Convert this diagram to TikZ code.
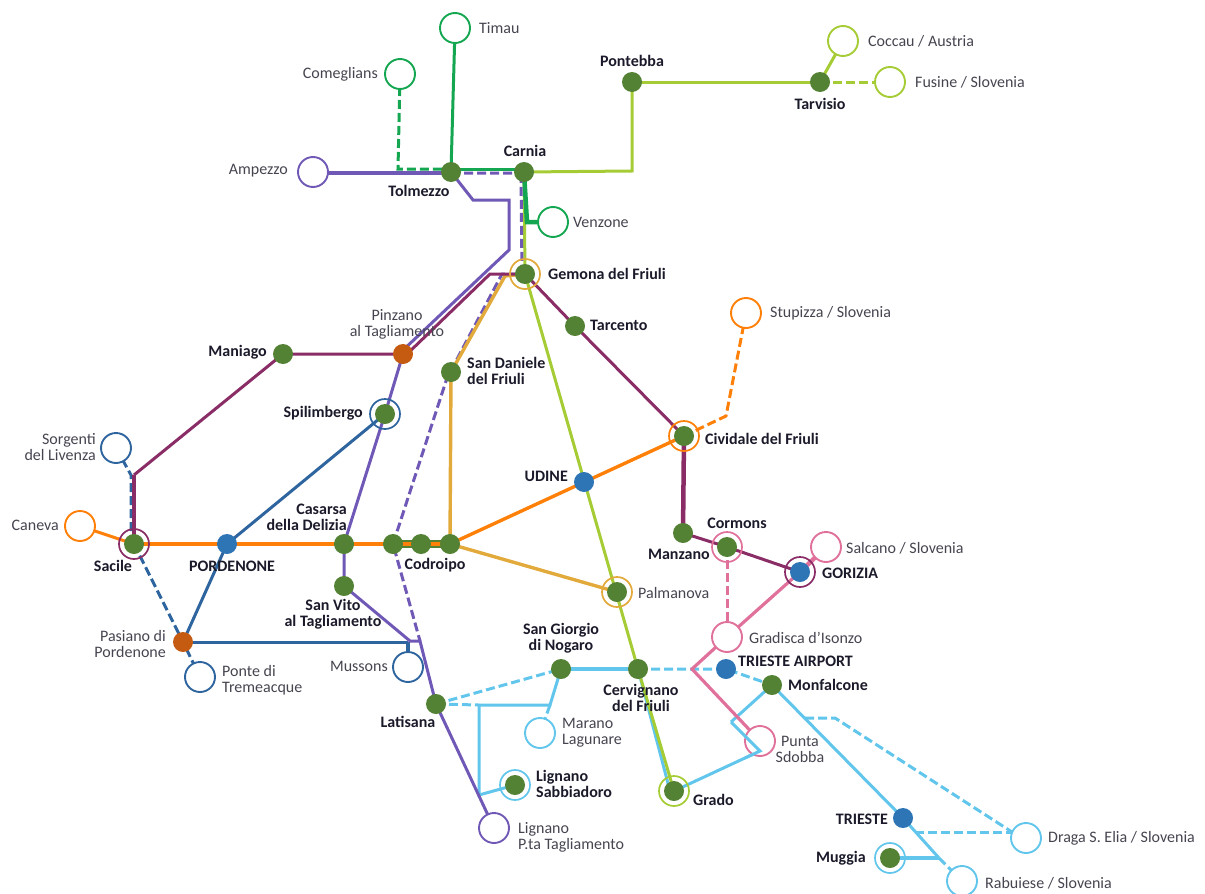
\documentclass[tikz,border=0pt]{standalone}
\usepackage{fontspec}
\setmainfont{Carlito}
\usetikzlibrary{backgrounds}
\definecolor{cpurple}{HTML}{7059B6}
\definecolor{cplum}{HTML}{8A2C66}
\definecolor{cgold}{HTML}{E2A93B}
\definecolor{corange}{HTML}{FF8008}
\definecolor{clime}{HTML}{A6CC35}
\definecolor{cgreen}{HTML}{14A650}
\definecolor{cnavy}{HTML}{2F659F}
\definecolor{csky}{HTML}{62C6EC}
\definecolor{cpink}{HTML}{E0719B}
\definecolor{cst}{HTML}{548235}
\definecolor{cbl}{HTML}{2E75B6}
\definecolor{cbr}{HTML}{C55A11}
\definecolor{ctxt}{HTML}{454550}
\definecolor{cbold}{HTML}{1A1A2A}
\tikzset{
 st/.style={circle,fill=cst,minimum size=20pt,inner sep=0pt},
 stb/.style={st,fill=cbl},
 stbr/.style={st,fill=cbr},
 open/.style={circle,draw=#1,fill=white,line width=1.9pt,minimum size=30pt,inner sep=0pt},
 ring/.style={circle,draw=#1,line width=1.7pt,minimum size=30pt,inner sep=0pt},
 lb/.style={font=\fontsize{16}{16}\selectfont,text=ctxt,inner sep=0pt,align=left},
 bl/.style={font=\fontsize{16}{16}\selectfont\bfseries,text=cbold,inner sep=0pt,align=center},
 thin line/.style={line width=3pt,line join=miter},
 thick line/.style={line width=4.5pt},
 dash line/.style={line width=3pt,dash pattern=on 9pt off 4pt},
}
\begin{document}
\begin{tikzpicture}[x=1pt,y=-1pt]
\useasboundingbox (0,0) rectangle (1205,894);
% stations
\node[open=cgreen] (timau) at (455,28) {};
\node[open=cgreen] (comeglians) at (400,74) {};
\node[st] (pontebba) at (632,82) {};
\node[st] (tarvisio) at (820,82) {};
\node[open=clime] (coccau) at (843,41) {};
\node[open=clime] (fusine) at (890,82) {};
\node[open=cpurple] (ampezzo) at (313,172) {};
\node[st] (tolmezzo) at (451,172) {};
\node[st] (carnia) at (524,172) {};
\node[open=cgreen] (venzone) at (553,222) {};
\node[st] (gemona) at (525,274) {};
\node[ring=cgold] (gemonar) at (525,274) {};
\node[st] (tarcento) at (575,326) {};
\node[open=corange] (stupizza) at (746,313) {};
\node[stbr] (pinzano) at (403,354) {};
\node[st] (maniago) at (283,354) {};
\node[st] (sandaniele) at (451,372) {};
\node[st] (spilimbergo) at (385,414) {};
\node[ring=cnavy] (spilimbergor) at (385,414) {};
\node[st] (cividale) at (684,436) {};
\node[ring=corange] (cividaler) at (684,436) {};
\node[open=cnavy] (sorgenti) at (116,448) {};
\node[stb] (udine) at (584,482) {};
\node[open=corange] (caneva) at (80,526) {};
\node[st] (sacile) at (134,544) {};
\node[ring=cplum] (saciler) at (134,544) {};
\node[stb] (pordenone) at (227,544) {};
\node[st] (casarsa) at (344,544) {};
\node[st] (codA) at (393,544) {};
\node[st] (codB) at (421,544) {};
\node[st] (codC) at (450,544) {};
\node[st] (manzano) at (683,533) {};
\node[st] (cormons) at (727,547) {};
\node[ring=cpink] (cormonsr) at (727,547) {};
\node[open=cpink] (salcano) at (826,547) {};
\node[stb] (gorizia) at (800,572) {};
\node[ring=cplum] (goriziar) at (800,572) {};
\node[st] (palmanova) at (617,592) {};
\node[ring=cgold] (palmanovar) at (617,592) {};
\node[st] (sanvito) at (344,586) {};
\node[stbr] (pasiano) at (183,642) {};
\node[open=cpink] (gradisca) at (727,637) {};
\node[st] (sangiorgio) at (561,669) {};
\node[st] (cervignano) at (638,669) {};
\node[stb] (airport) at (726,669) {};
\node[st] (monfalcone) at (772,685) {};
\node[open=cnavy] (mussons) at (408,667) {};
\node[open=cnavy] (ponte) at (200,677) {};
\node[st] (latisana) at (436,704) {};
\node[open=csky] (marano) at (540,733) {};
\node[open=cpink] (punta) at (760,741) {};
\node[st] (lignanos) at (515,785) {};
\node[ring=csky] (lignanosr) at (515,785) {};
\node[st] (grado) at (674,791) {};
\node[ring=clime] (grador) at (674,791) {};
\node[open=cpurple] (lignanop) at (494,828) {};
\node[stb] (trieste) at (903,818) {};
\node[open=csky] (draga) at (1026,838) {};
\node[st] (muggia) at (890,858) {};
\node[ring=csky] (muggiar) at (890,858) {};
\node[open=csky] (rabuiese) at (962,881) {};
% way points
\coordinate (pA) at (473,200);
\coordinate (pB) at (509,200);
\coordinate (pC) at (509,250);
\coordinate (pD) at (410,641);
\coordinate (pE) at (420,641);
\coordinate (pF) at (401,352);
\coordinate (pG) at (502,274);
\coordinate (pH) at (447,378);
\coordinate (plA) at (490,274);
\coordinate (plC) at (405,356);
\coordinate (plB) at (134,475);
\coordinate (nA) at (131,475);
\coordinate (gA) at (505,276);
\coordinate (oA) at (726,416);
\coordinate (lA) at (632,171);
\coordinate (cA) at (398,169);
\coordinate (cB) at (527,222);
\coordinate (cC) at (408,642);
\coordinate (sA) at (692,669);
\coordinate (sB) at (731,722);
\coordinate (sC) at (760,751);
\coordinate (sL) at (745,758);
\coordinate (sD) at (939,858);
\coordinate (sE) at (805,718);
\coordinate (sF) at (835,718);
\coordinate (sG) at (915,832);
\coordinate (sK) at (1012,832);
\coordinate (sH) at (550,705);
\coordinate (sI) at (479,705);
\coordinate (sJ) at (479,795);
\begin{scope}[on background layer]
% dark green under the Codroipo segment
\draw[line width=8pt,cst] (codA.center) -- (codC.center);
% purple thick, below the green dashes
\draw[cpurple,thick line] ([yshift=-1pt]ampezzo.center) -- ([yshift=-1pt]tolmezzo.center);
% green
\draw[cgreen,thin line] (timau.center) -- (tolmezzo.center);
\draw[cgreen,dash line] (comeglians.center) -- (cA) -- ([yshift=3pt]tolmezzo.center);
\draw[cgreen,thin line] ([yshift=3pt]tolmezzo.center) -- ([yshift=3pt]carnia.center);
% lime
\draw[clime,thin line] (pontebba.center) -- (tarvisio.center);
\draw[clime,thin line] (pontebba.center) -- (lA) -- (carnia.center);
\draw[clime,thin line] (tarvisio.center) -- (coccau.center);
\draw[clime,dash line] (tarvisio.center) -- (fusine.center);
\draw[clime,thin line] (carnia.center) -- (gemona.center);
\draw[cgreen,thick line] (carnia.center) -- (cB) -- (venzone.center);
% sky
\draw[csky,thin line] (cervignano.center) -- ([xshift=-4pt]grado.center);
\draw[clime,thin line] (gemona.center) -- (cervignano.center) -- (grado.center);
\draw[csky,thick line] (sangiorgio.center) -- (cervignano.center);
\draw[csky,dash line] (cervignano.center) -- (sA) -- (airport.center) -- (monfalcone.center);
\draw[csky,thin line] (monfalcone.center) -- (sB);
\draw[csky,thin line] (sC) -- (grado.center);
\draw[csky,thin line] (monfalcone.center) -- (trieste.center) -- (sD);
\draw[csky,dash line] (sD) -- (rabuiese.center);
\draw[csky,thick line] (muggia.center) -- (sD);
\draw[csky,dash line] (sE) -- (sF) -- (sK) -- (draga.center);
\draw[csky,dash line] (sG) -- (sK);
\draw[csky,dash line] (latisana.center) -- (sangiorgio.center);
\draw[csky,dash line] (latisana.center) -- (sI);
\draw[csky,thin line] (sI) -- (sH) -- (sangiorgio.center);
\draw[csky,dash line] (sH) -- (marano.center);
\draw[csky,thin line] (sI) -- (sJ) -- (lignanos.center);
% pink
\draw[cpink,thick line] (salcano.center) -- (gorizia.center);
\draw[cpink,line width=3.2pt] (gorizia.center) -- (gradisca.center) -- (sA) -- (punta.center);
\draw[cpink,dash line] (cormons.center) -- (gradisca.center);
% navy
\draw[cnavy,dash line] (sorgenti.center) -- (nA) -- ([xshift=-3pt]sacile.center);
\draw[cnavy,dash line] (sacile.center) -- (pasiano.center) -- (ponte.center);
\draw[cnavy,thin line] (pasiano.center) -- (pordenone.center) -- (spilimbergo.center);
\draw[cnavy,thin line] (pasiano.center) -- (cC);
\draw[cnavy,thick line] (cC) -- (mussons.center);
% purple
\draw[cpurple,thin line] (tolmezzo.center) -- (pA) -- (pB) -- (pC) -- (pF) -- (pinzano.center) -- (spilimbergo.center) -- (casarsa.center) -- (sanvito.center) -- (pD) -- (pE) -- (latisana.center) -- (lignanop.center);
\draw[cpurple,dash line] ([yshift=-1pt]tolmezzo.center) -- ([yshift=-1pt]carnia.center) -- ([xshift=-3pt]carnia.center) -- ([xshift=-3pt]gemona.center) -- (pG) -- (pH) -- (codA.center) -- (pE);
% gold
\draw[cgold,line width=3.4pt] (gemona.center) -- (gA) -- (sandaniele.center) -- (codC.center) -- (palmanova.center);
% plum
\draw[cplum,thin line] (gemona.center) -- (plA) -- (plC) -- (pinzano.center) -- (maniago.center) -- (plB);
\draw[cplum,thick line] (plB) -- (sacile.center);
\draw[cplum,thin line] (gemona.center) -- (tarcento.center) -- (cividale.center);
\draw[cplum,thick line] (cividale.center) -- (manzano.center);
\draw[cplum,thin line] (manzano.center) -- (cormons.center) -- (gorizia.center);
% orange
\draw[corange,thin line] (caneva.center) -- (sacile.center);
\draw[corange,thick line] (sacile.center) -- (codA.center);
\draw[corange,thick line] (codA.center) -- (codC.center);
\draw[corange,line width=3.4pt] (codC.center) -- (cividale.center);
\draw[corange,dash line] (cividale.center) -- (oA) -- (stupizza.center);
\end{scope}
% the sky line that crosses the Punta Sdobba circle
\draw[csky,thin line] (sB) -- (sC) -- (sL);
% labels
\node[lb,anchor=west] (tTimau) at (479,28) {Timau};
\node[lb,anchor=east] (tComeglians) at (378,74) {Comeglians};
\node[bl] (tPontebba) at (632,61) {Pontebba};
\node[bl] (tTarvisio) at (820,104) {Tarvisio};
\node[lb,anchor=west] (tCoccau) at (868,41) {Coccau / Austria};
\node[lb,anchor=west] (tFusine) at (915,82) {Fusine / Slovenia};
\node[lb,anchor=east] (tAmpezzo) at (288,171) {Ampezzo};
\node[bl] (tTolmezzo) at (419,191) {Tolmezzo};
\node[bl] (tCarnia) at (525,151) {Carnia};
\node[lb,anchor=west] (tVenzone) at (573,222) {Venzone};
\node[bl,anchor=west] (tGemona) at (548,274) {Gemona del Friuli};
\node[bl,anchor=west] (tTarcento) at (590,325) {Tarcento};
\node[lb,anchor=west] (tStupizza) at (770,313) {Stupizza / Slovenia};
\node[lb,align=center] (tPinzano) at (397,324) {Pinzano\\al Tagliamento};
\node[bl,anchor=east] (tManiago) at (267,352) {Maniago};
\node[bl,anchor=west,align=left] (tSanDaniele) at (467,371) {San Daniele\\del Friuli};
\node[bl,anchor=east] (tSpilimbergo) at (363,413) {Spilimbergo};
\node[bl,anchor=west] (tCividale) at (705,439) {Cividale del Friuli};
\node[lb,anchor=east,align=right] (tSorgenti) at (96,447) {Sorgenti\\del Livenza};
\node[bl,anchor=east] (tUdine) at (568,476) {UDINE};
\node[lb,anchor=east] (tCaneva) at (59,525) {Caneva};
\node[bl] (tSacile) at (113,566) {Sacile};
\node[bl] (tPordenone) at (232,566) {PORDENONE};
\node[bl,anchor=east,align=right] (tCasarsa) at (347,517) {Casarsa\\della Delizia};
\node[bl] (tCodroipo) at (435,565) {Codroipo};
\node[bl] (tCormons) at (737,523) {Cormons};
\node[bl,anchor=east] (tManzano) at (710,554) {Manzano};
\node[lb,anchor=west] (tSalcano) at (846,548) {Salcano / Slovenia};
\node[bl,anchor=west] (tGorizia) at (822,573) {GORIZIA};
\node[lb,anchor=west] (tPalmanova) at (638,593) {Palmanova};
\node[bl] (tSanVito) at (333,614) {San Vito\\al Tagliamento};
\node[lb,anchor=east,align=right] (tPasiano) at (166,644) {Pasiano di\\Pordenone};
\node[lb,anchor=west] (tGradisca) at (749,638) {Gradisca d’Isonzo};
\node[bl] (tSanGiorgio) at (561,638) {San Giorgio\\di Nogaro};
\node[bl,anchor=west] (tAirport) at (738,661) {TRIESTE AIRPORT};
\node[bl,anchor=west] (tMonfalcone) at (788,685) {Monfalcone};
\node[bl] (tCervignano) at (641,698) {Cervignano\\del Friuli};
\node[lb,anchor=east] (tMussons) at (388,666) {Mussons};
\node[lb,anchor=west] (tPonte) at (222,680) {Ponte di\\Tremeacque};
\node[bl] (tLatisana) at (408,722) {Latisana};
\node[lb,anchor=west] (tMarano) at (562,733) {Marano\\Lagunare};
\node[lb,align=center] (tPunta) at (800,749) {Punta\\Sdobba};
\node[bl,anchor=west,align=left] (tLignanoS) at (536,784) {Lignano\\Sabbiadoro};
\node[bl,anchor=west] (tGrado) at (693,800) {Grado};
\node[lb,anchor=west] (tLignanoP) at (518,837) {Lignano\\P.ta Tagliamento};
\node[bl,anchor=east] (tTrieste) at (888,819) {TRIESTE};
\node[lb,anchor=west] (tDraga) at (1048,838) {Draga S. Elia / Slovenia};
\node[bl,anchor=east] (tMuggia) at (866,858) {Muggia};
\node[lb,anchor=west] (tRabuiese) at (985,883) {Rabuiese / Slovenia};
\end{tikzpicture}
\end{document}
